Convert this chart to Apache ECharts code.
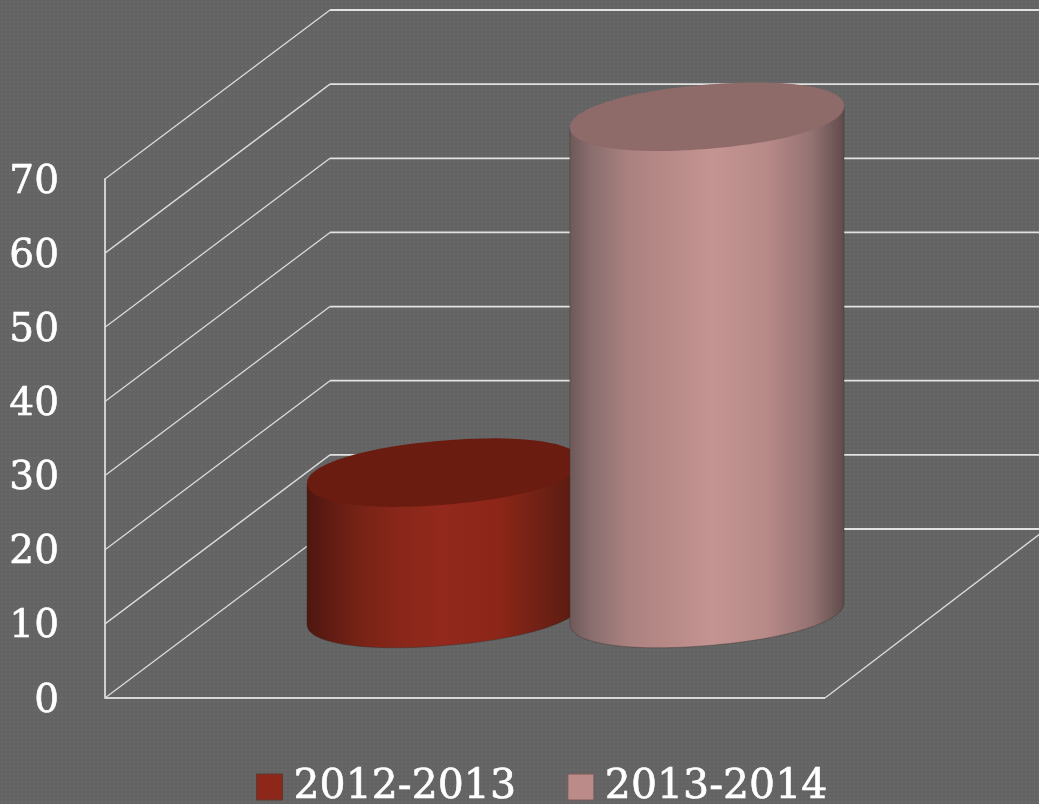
<!DOCTYPE html>
<html>
<head>
<meta charset="utf-8">
<script src="https://cdn.jsdelivr.net/npm/echarts@6/dist/echarts.min.js"></script>
<style>
html,body{margin:0;padding:0;background-color:#636363;background-image:radial-gradient(#696969 1px,transparent 1.2px);background-size:4px 4px;}
#c{width:1039px;height:804px;}
</style>
</head>
<body>
<div id="c"></div>
<script>
const categories = [''];
const seriesNames = ['2012-2013', '2013-2014'];
const values2012 = [19];
const values2013 = [67];
const yTicks = [0, 10, 20, 30, 40, 50, 60, 70];

const font = 'DejaVu Serif';
const depthX = 225, depthY = 169;
const floorDX = 220, floorDY = 168;
const midDepthX = 110.5;
const halfA = 137.5, halfB = 32, tilt = -4.8 * Math.PI / 180, roundness = 0.94;
const slotOffset = 0.1826;

function spow(c) { return Math.sign(c) * Math.pow(Math.abs(c), roundness); }
function ellipsePoint(cx, cy, t) {
  const px = halfA * spow(Math.cos(t)), py = halfB * spow(Math.sin(t));
  return [cx + px * Math.cos(tilt) - py * Math.sin(tilt),
          cy + px * Math.sin(tilt) + py * Math.cos(tilt)];
}
// t where the outline reaches its rightmost point
let t0 = 0;
for (let i = -200; i <= 200; i++) {
  const t = i / 200;
  if (ellipsePoint(0, 0, t)[0] > ellipsePoint(0, 0, t0)[0]) t0 = t;
}

function cylinder(slot, stops, topColor) {
  return function (params, api) {
    const band = api.size([1, 0])[0];
    const v = api.value(1);
    const cx = api.coord([0, 0])[0] + midDepthX + slot * band;
    const baseY = api.coord([0, 0])[1] - depthY / 2;
    const topY = api.coord([0, v])[1] - depthY / 2;
    const body = [];
    for (let i = 0; i <= 80; i++) body.push(ellipsePoint(cx, baseY, t0 + Math.PI * i / 80));
    body.push(ellipsePoint(cx, topY, t0 + Math.PI));
    body.push(ellipsePoint(cx, topY, t0));
    const top = [];
    for (let i = 0; i < 160; i++) top.push(ellipsePoint(cx, topY, Math.PI * 2 * i / 160));
    return {
      type: 'group',
      children: [
        { type: 'polygon', shape: { points: body },
          style: { fill: { type: 'linear', x: 0, y: 0, x2: 1, y2: 0, colorStops: stops }, stroke: 'rgba(50,40,40,0.35)', lineWidth: 1 } },
        { type: 'polygon', shape: { points: top }, style: { fill: topColor } }
      ]
    };
  };
}

function walls(params, api) {
  const v = api.value(1);
  const cs = params.coordSys;
  const p = api.coord([0, v]);
  const x0 = cs.x, y0 = p[1];
  const children = [
    { type: 'line', shape: { x1: x0, y1: y0, x2: x0 + depthX, y2: y0 - depthY },
      style: { stroke: '#dcdcdc', lineWidth: 1.3 } },
    { type: 'line', shape: { x1: x0 + depthX, y1: y0 - depthY, x2: x0 + cs.width + depthX, y2: y0 - depthY },
      style: { stroke: '#e2e2e2', lineWidth: 1.8 } }
  ];
  if (v === 0) {
    children.push(
      { type: 'line', shape: { x1: x0, y1: y0, x2: x0 + cs.width, y2: y0 }, style: { stroke: '#d8d8d8', lineWidth: 2 } },
      { type: 'line', shape: { x1: x0 + cs.width, y1: y0, x2: x0 + cs.width + floorDX, y2: y0 - floorDY }, style: { stroke: '#dcdcdc', lineWidth: 1.3 } }
    );
  }
  return { type: 'group', children };
}

const redStops = [
  { offset: 0, color: '#4d1710' }, { offset: 0.08, color: '#5f1b12' },
  { offset: 0.2, color: '#782316' }, { offset: 0.35, color: '#8a271a' },
  { offset: 0.5, color: '#92291c' }, { offset: 0.7, color: '#8c2618' },
  { offset: 0.85, color: '#702115' }, { offset: 1, color: '#541a10' }
];
const pinkStops = [
  { offset: 0, color: '#6e5858' }, { offset: 0.08, color: '#8a6e6e' },
  { offset: 0.22, color: '#ab8280' }, { offset: 0.38, color: '#b98b88' },
  { offset: 0.52, color: '#c39492' }, { offset: 0.72, color: '#b78987' },
  { offset: 0.88, color: '#947272' }, { offset: 1, color: '#5f4b4a' }
];

const chart = echarts.init(document.getElementById('c'), null, { renderer: 'canvas' });
chart.setOption({
  animation: false,
  backgroundColor: 'transparent',
  grid: { left: 105, top: 179, width: 720, height: 519 },
  xAxis: { type: 'category', data: categories, axisLine: { show: false }, axisTick: { show: false }, axisLabel: { show: false } },
  yAxis: {
    type: 'value', min: 0, max: 70, interval: 10,
    axisLine: { show: true, lineStyle: { color: '#cfcfcf', width: 2 } },
    axisTick: { show: false },
    splitLine: { show: false },
    axisLabel: { color: '#ffffff', fontFamily: font, fontSize: 39, margin: 46, lineHeight: 7,
      verticalAlign: 'top', verticalAlignMinMax: 'top',
      textBorderColor: '#ffffff', textBorderWidth: 0.6 }
  },
  legend: {
    left: 256, top: 765, padding: 0, itemWidth: 26, itemHeight: 26, itemGap: 51,
    textStyle: { color: '#ffffff', fontFamily: font, fontSize: 41, lineHeight: 42, padding: [2, 0, 0, 6],
      textBorderColor: '#ffffff', textBorderWidth: 0.6 },
    data: [
      { name: seriesNames[0], icon: 'rect', itemStyle: { color: '#8c2719', borderColor: '#5f3a34', borderWidth: 1 } },
      { name: seriesNames[1], icon: 'rect', itemStyle: { color: '#bb8b89', borderColor: '#7a5c5a', borderWidth: 1 } }
    ]
  },
  series: [
    { type: 'custom', name: 'walls', silent: true, renderItem: walls,
      data: yTicks.map(v => [0, v]), encode: { x: 0, y: 1 }, z: 1 },
    { type: 'custom', name: seriesNames[0], renderItem: cylinder(-slotOffset, redStops, '#6b1c10'),
      data: values2012.map((v, i) => [i, v]), encode: { x: 0, y: 1 }, itemStyle: { color: '#8c2719' }, z: 2 },
    { type: 'custom', name: seriesNames[1], renderItem: cylinder(slotOffset, pinkStops, '#8e6b69'),
      data: values2013.map((v, i) => [i, v]), encode: { x: 0, y: 1 }, itemStyle: { color: '#bb8b89' }, z: 3 }
  ]
});
</script>
</body>
</html>
